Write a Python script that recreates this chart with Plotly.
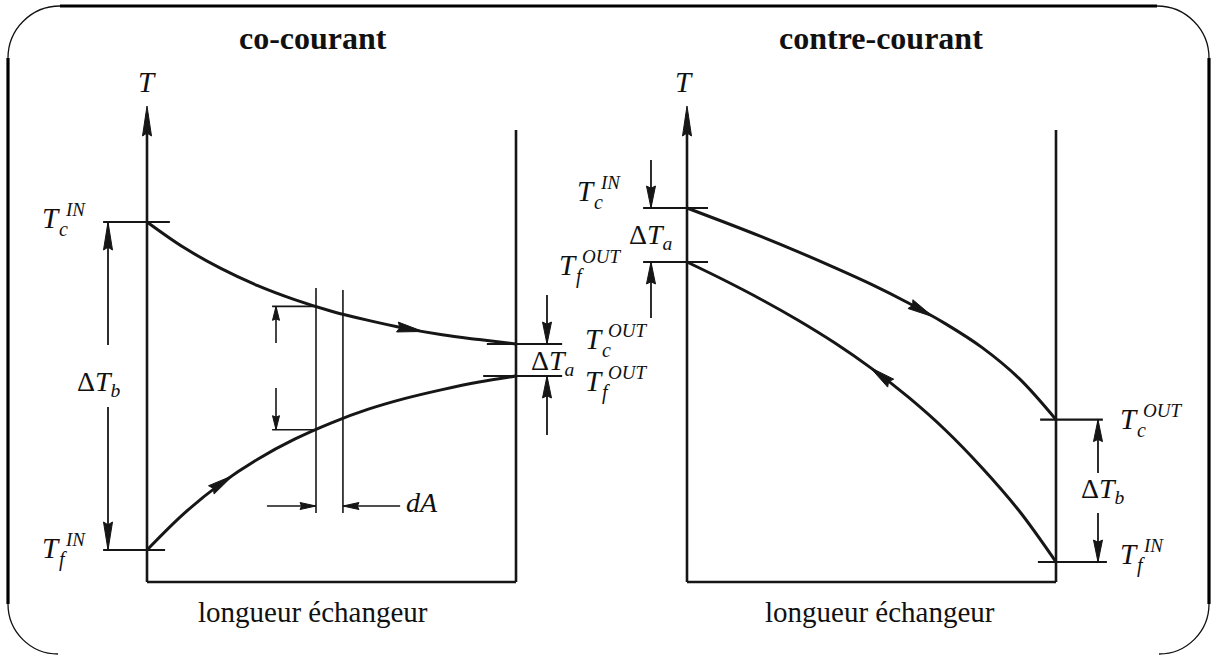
import numpy as np
import plotly.graph_objects as go

# ---- data: length along the exchanger (0..1), temperatures in arbitrary units
length = [0.0, 0.1, 0.2, 0.3, 0.4, 0.5, 0.6, 0.7, 0.8, 0.9, 1.0]

# co-courant (parallel flow)
co_hot = [90.0, 83.6, 78.4, 74.1, 70.6, 67.7, 65.4, 63.4, 61.8, 60.6, 59.5]
co_cold = [8.0, 17.1, 24.6, 30.7, 35.7, 39.8, 43.2, 45.9, 48.1, 50.0, 51.5]
co_dA = [0.458, 0.531]          # the thin slice dA

# contre-courant (counter flow)
ct_hot = [93.5, 90.0, 86.4, 82.6, 78.6, 74.4, 69.75, 64.6, 58.6, 50.9, 40.6]
ct_cold = [80.0, 75.5, 70.7, 65.5, 59.8, 53.4, 46.2, 38.0, 28.5, 17.8, 5.0]

T_top = 119.0       # tip of the T axis
wall_top = 113.0    # top of the exchanger outlet wall

# ---- canvas geometry (pixels)
W, H = 1217, 657
SX, SY = 369.0, 4.0           # px per unit of length / of temperature
X0_LEFT, X0_RIGHT, Y0 = 147, 687, 582
INK = '#161616'
FONT = 'Liberation Serif'

traces = []


def lines(xs, ys, xa, width, shape='linear'):
    traces.append(go.Scatter(x=xs, y=ys, xaxis=xa, yaxis='y', mode='lines',
                             line=dict(color=INK, width=width, shape=shape),
                             hoverinfo='skip'))


def segs(pairs):
    xs, ys = [], []
    for (xa_, ya_), (xb_, yb_) in pairs:
        xs += [xa_, xb_, None]
        ys += [ya_, yb_, None]
    return xs, ys


heads = {'x': ([], []), 'x2': ([], [])}


def head(xa, x, y, dx, dy, L, Wd):
    # filled arrowhead with its tip at (x, y), pointing along (dx, dy)
    px, py = dx * SX, dy * SY
    n = np.hypot(px, py)
    ux, uy = px / n, py / n
    bx, by = -ux * L, -uy * L
    nx, ny = -uy * Wd / 2, ux * Wd / 2
    pts = [(0, 0), (bx + nx, by + ny), (bx * 0.9, by * 0.9), (bx - nx, by - ny), (0, 0)]
    hx, hy = heads[xa]
    for a, b in pts:
        hx.append(x + a / SX)
        hy.append(y + b / SY)
    hx.append(None)
    hy.append(None)


def dim_arrow(xa, x, y_from, y_to, L=22, Wd=9, width=1.8):
    lines([x, x], [y_from, y_to], xa, width)
    head(xa, x, y_to, 0, y_to - y_from, L, Wd)


def h_arrow(xa, y, x_from, x_to, L=16, Wd=7, width=1.6):
    lines([x_from, x_to], [y, y], xa, width)
    head(xa, x_to, y, x_to - x_from, 0, L, Wd)


def curve_arrow(xa, t, xs, ys, forward=True, L=26, Wd=10):
    dt = 0.02 if forward else -0.02
    xt, yt = t, np.interp(t, xs, ys)
    yb = np.interp(t - dt, xs, ys)
    head(xa, xt, yt, dt, yt - yb, L, Wd)


# ================= co-courant =================
xa = 'x'
lines([0, 0, None, 0, 1, None, 1, 1], [T_top - 2, 0, None, 0, 0, None, 0, wall_top], xa, 2.6)
head(xa, 0, T_top, 0, 1, 30, 9)
lines(length, co_hot, xa, 3, 'spline')
lines(length, co_cold, xa, 3, 'spline')

xs, ys = segs([((-0.119, co_hot[0]), (0.062, co_hot[0])),
               ((-0.119, co_cold[0]), (0.049, co_cold[0])),
               ((0.921, co_hot[-1]), (1.125, co_hot[-1])),
               ((0.911, co_cold[-1]), (1.125, co_cold[-1]))])
lines(xs, ys, xa, 2.2)

# slice dA
hot_dA = float(np.interp(co_dA[0], length, co_hot))
cold_dA = float(np.interp(co_dA[0], length, co_cold))
xs, ys = segs([((co_dA[0], 73.5), (co_dA[0], 17.25)),
               ((co_dA[1], 73.0), (co_dA[1], 17.25)),
               ((0.339, hot_dA), (co_dA[0], hot_dA)),
               ((0.339, cold_dA), (co_dA[0], cold_dA))])
lines(xs, ys, xa, 1.6)
dim_arrow(xa, 0.3496, 59.75, hot_dA, 14, 7, 1.6)
dim_arrow(xa, 0.3496, 48.5, cold_dA, 14, 7, 1.6)
h_arrow(xa, 19.0, 0.325, co_dA[0])
h_arrow(xa, 19.0, 0.686, co_dA[1])

# delta T arrows
dim_arrow(xa, -0.1057, 59.25, co_hot[0], 28, 9)
dim_arrow(xa, -0.1057, 43.75, co_cold[0], 28, 9)
dim_arrow(xa, 1.084, 71.75, co_hot[-1])
dim_arrow(xa, 1.084, 36.75, co_cold[-1])

curve_arrow(xa, 0.748, length, co_hot, True)
curve_arrow(xa, 0.233, length, co_cold, True)

# ================= contre-courant =================
xa = 'x2'
lines([0, 0, None, 0, 1, None, 1, 1], [T_top - 2, 0, None, 0, 0, None, 0, wall_top], xa, 2.6)
head(xa, 0, T_top, 0, 1, 30, 9)
lines(length, ct_hot, xa, 3, 'spline')
lines(length, ct_cold, xa, 3, 'spline')

xs, ys = segs([((-0.119, ct_hot[0]), (0.057, ct_hot[0])),
               ((-0.119, ct_cold[0]), (0.057, ct_cold[0])),
               ((0.957, ct_hot[-1]), (1.127, ct_hot[-1])),
               ((0.951, ct_cold[-1]), (1.138, ct_cold[-1]))])
lines(xs, ys, xa, 2.2)

dim_arrow(xa, -0.0976, 105.5, ct_hot[0])
dim_arrow(xa, -0.0976, 66.0, ct_cold[0])
dim_arrow(xa, 1.1138, 27.25, ct_hot[-1])
dim_arrow(xa, 1.1138, 17.25, ct_cold[-1])

curve_arrow(xa, 0.667, length, ct_hot, True)
curve_arrow(xa, 0.496, length, ct_cold, False)

for xa_, (hx, hy) in heads.items():
    traces.append(go.Scatter(x=hx, y=hy, xaxis=xa_, yaxis='y', mode='lines',
                             fill='toself', fillcolor=INK,
                             line=dict(color=INK, width=1), hoverinfo='skip'))

fig = go.Figure(traces)

# ---- texts, placed on a pixel canvas (x3 / y3)
ann = []


def txt(x, y, text, size=28, xanchor='center'):
    ann.append(dict(x=x, y=y, xref='x3', yref='y3', text=text, showarrow=False,
                    xanchor=xanchor, yanchor='middle',
                    font=dict(family=FONT, size=size, color='#111')))


def tlabel(xl, yc, sub, sup):
    txt(xl, yc, '<i>T</i>', 29, 'left')
    txt(xl + 23, yc - 9, '<i>%s</i>' % sup, 19, 'left')
    txt(xl + 17, yc + 11, '<i>%s</i>' % sub, 20, 'left')


txt(313, 38, '<b>co-courant</b>', 32)
txt(881, 38, '<b>contre-courant</b>', 32)
txt(313, 612, 'longueur échangeur', 29)
txt(880, 612, 'longueur échangeur', 29)
txt(147, 82, '<i>T</i>', 29)
txt(684, 82, '<i>T</i>', 29)

tlabel(40, 218, 'c', 'IN')
tlabel(40, 548, 'f', 'IN')
tlabel(583, 339, 'c', 'OUT')
tlabel(583, 381, 'f', 'OUT')
tlabel(575, 191, 'c', 'IN')
tlabel(557, 265, 'f', 'OUT')
tlabel(1118, 419, 'c', 'OUT')
tlabel(1118, 554, 'f', 'IN')

txt(99, 383, 'Δ<i>T</i><sub><i>b</i></sub>')
txt(553, 362, 'Δ<i>T</i><sub><i>a</i></sub>')
txt(651, 236, 'Δ<i>T</i><sub><i>a</i></sub>')
txt(1103, 490, 'Δ<i>T</i><sub><i>b</i></sub>')
txt(404, 502, '<i>dA</i>', 28, 'left')

# ---- rounded frame around both drawings
k = 0.5523
r = 52
frame_thin = [
    'M 60,6 C %f,6 8,%f 8,58' % (60 - k * r, 58 - k * r),
    'M 1157,6 C %f,6 1209,%f 1209,58' % (1157 + k * r, 58 - k * r),
    'M 8,604 C 8,%f %f,654 58,654' % (604 + k * 50, 58 - k * 50),
    'M 1209,604 C 1209,%f %f,654 1159,654' % (604 + k * 50, 1159 + k * 50),
]
shapes = [dict(type='path', xref='x3', yref='y3', path=p,
               line=dict(color='#111', width=1.3)) for p in frame_thin]
for p in ['M 60,6 L 1157,6', 'M 8,58 L 8,604', 'M 1209,58 L 1209,604']:
    shapes.append(dict(type='path', xref='x3', yref='y3', path=p,
                       line=dict(color='#000', width=3.2)))

hidden = dict(visible=False, showgrid=False, zeroline=False, fixedrange=True)
fig.update_layout(
    width=W, height=H,
    margin=dict(l=0, r=0, t=0, b=0),
    paper_bgcolor='white', plot_bgcolor='white',
    showlegend=False,
    xaxis=dict(hidden, domain=[0, 1], range=[-X0_LEFT / SX, (W - X0_LEFT) / SX]),
    xaxis2=dict(hidden, domain=[0, 1], overlaying='x',
                range=[-X0_RIGHT / SX, (W - X0_RIGHT) / SX]),
    yaxis=dict(hidden, domain=[0, 1], range=[-(H - Y0) / SY, Y0 / SY]),
    xaxis3=dict(hidden, domain=[0, 1], overlaying='x', range=[0, W]),
    yaxis3=dict(hidden, domain=[0, 1], overlaying='y', range=[H, 0]),
    annotations=ann,
    shapes=shapes,
)

# drop the default 8 px page margin so the figure fills the window exactly
fig.write_html("out.html", config={'displayModeBar': False},
               post_script="document.body.style.margin='0';")
